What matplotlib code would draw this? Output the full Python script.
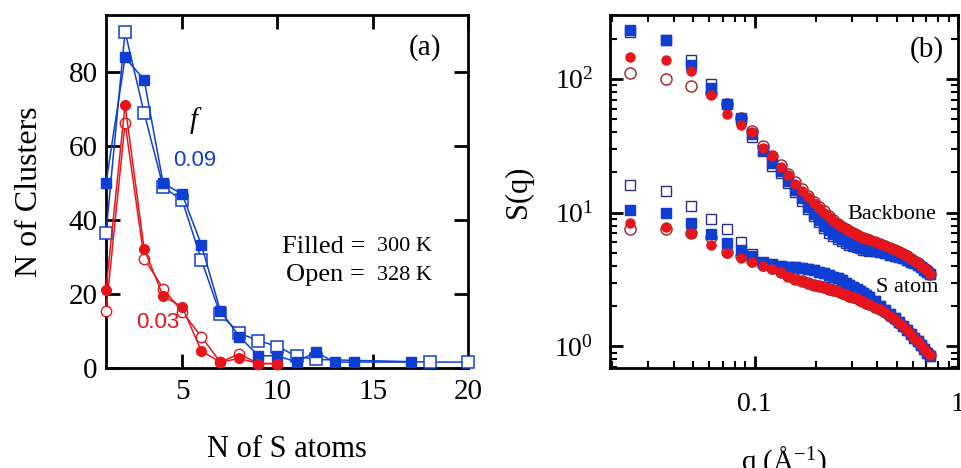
import matplotlib
matplotlib.use("Agg")
import matplotlib.pyplot as plt

plt.rcParams['font.family'] = ['Liberation Serif', 'DejaVu Serif']
plt.rcParams['mathtext.fontset'] = 'custom'
plt.rcParams['mathtext.rm'] = 'Liberation Serif'
plt.rcParams['mathtext.it'] = 'Liberation Serif:italic'

BLUE = '#0f3fd2'
NAVY = '#2c2f7a'
RED = '#e8141c'
DKRED = '#a02020'

# ---- panel (a): cluster size distribution ----
n_blue_filled = [1, 2, 3, 4, 5, 6, 7, 8, 9, 10, 11, 12, 13, 14, 17]
c_blue_filled = [50, 84, 78, 50, 47, 33.4, 15.5, 8.5, 3.3, 3.3, 1.6, 4.3, 1.6, 1.6, 1.6]
n_blue_open = [1, 2, 3, 4, 5, 6, 7, 8, 9, 10, 11, 12, 18, 20]
c_blue_open = [36.4, 91, 69, 49, 45.4, 29.3, 14.5, 9.4, 7.4, 5.8, 3.2, 2.3, 1.6, 1.6]
n_red = [1, 2, 3, 4, 5, 6, 7, 8, 9, 10]
c_red_filled = [21.2, 71.2, 32.3, 19.4, 16.6, 4.6, 1.6, 2.6, 1.2, 1.2]
c_red_open = [15.4, 66.3, 29.6, 21.5, 15.2, 8.5, 1.6, 3.8, 1.2, 1.2]

# ---- panel (b): structure factors ----
q = [0.0244, 0.0366, 0.0488, 0.061, 0.0732, 0.0854, 0.0976, 0.1098, 0.122, 0.1342,
     0.1464, 0.1586, 0.1708, 0.183, 0.1952, 0.2074, 0.2196, 0.2318, 0.244, 0.2562,
     0.2684, 0.2806, 0.2928, 0.305, 0.3172, 0.3294, 0.3416, 0.3538, 0.366,
     0.3904, 0.4148, 0.4392, 0.4636, 0.488, 0.5124, 0.5368, 0.5612, 0.5856,
     0.61, 0.6344, 0.6588, 0.6832, 0.7076, 0.732]

bb_blue_filled = [231, 194, 126, 85, 65, 50.6, 39, 29.6, 23.3, 20.5,
                  17.3, 14.8, 12.8, 11.1, 9.8, 8.8, 8.0, 7.4, 6.9, 6.6,
                  6.3, 6.1, 5.9, 5.75, 5.6, 5.5, 5.4, 5.35, 5.3,
                  5.15, 5.05, 4.95, 4.85, 4.75, 4.65, 4.55, 4.45, 4.3,
                  4.2, 4.05, 3.9, 3.75, 3.6, 3.45]
bb_blue_open = [225, 194, 139, 92, 65, 50, 37, 29, 22.3, 19.8,
                16.7, 14.2, 12.3, 10.7, 9.5, 8.5, 7.7, 7.1, 6.7, 6.4,
                6.1, 5.9, 5.75, 5.6, 5.5, 5.4, 5.3, 5.25, 5.2,
                5.15, 5.05, 4.95, 4.85, 4.75, 4.65, 4.55, 4.45, 4.3,
                4.2, 4.05, 3.9, 3.75, 3.6, 3.45]
bb_red_filled = [145, 139, 115, 76, 55, 45, 40, 30.5, 26.4, 22.0,
                 19.0, 16.5, 14.6, 13.0, 11.8, 10.8, 9.9, 9.2, 8.6, 8.2,
                 7.8, 7.5, 7.25, 7.0, 6.8, 6.6, 6.45, 6.3, 6.2,
                 6.0, 5.8, 5.6, 5.4, 5.25, 5.05, 4.9, 4.7, 4.5,
                 4.35, 4.2, 4.0, 3.85, 3.7, 3.5]
bb_red_open = [111, 100, 89, 78, 65, 51, 40.6, 31.4, 26.4, 22.5,
               19.5, 17.0, 15.0, 13.4, 12.1, 11.1, 10.2, 9.4, 8.8, 8.2,
               7.8, 7.5, 7.25, 7.0, 6.8, 6.6, 6.45, 6.3, 6.2,
               6.0, 5.8, 5.6, 5.4, 5.25, 5.05, 4.9, 4.7, 4.5,
               4.35, 4.2, 4.0, 3.85, 3.7, 3.5]

s_blue_filled = [10.4, 9.9, 8.3, 6.9, 5.9, 5.3, 4.7, 4.2, 4.05, 4.0,
                 3.95, 3.9, 3.85, 3.8, 3.72, 3.62, 3.52, 3.42, 3.32, 3.22,
                 3.12, 3.0, 2.9, 2.8, 2.7, 2.6, 2.5, 2.42, 2.33,
                 2.17, 2.02, 1.88, 1.75, 1.63, 1.52, 1.42, 1.33, 1.24,
                 1.16, 1.09, 1.02, 0.96, 0.9, 0.85]
s_blue_open = [16, 14.4, 11.2, 8.9, 7.5, 6.0, 4.9, 4.3, 4.1, 4.0,
               3.95, 3.9, 3.85, 3.8, 3.72, 3.62, 3.52, 3.42, 3.32, 3.22,
               3.12, 3.0, 2.9, 2.8, 2.7, 2.6, 2.5, 2.42, 2.33,
               2.17, 2.02, 1.88, 1.75, 1.63, 1.52, 1.42, 1.33, 1.24,
               1.16, 1.09, 1.02, 0.96, 0.9, 0.85]
s_red_filled = [8.3, 7.8, 7.0, 5.7, 5.0, 4.6, 4.3, 4.0, 3.8, 3.6,
                3.35, 3.2, 3.08, 2.98, 2.9, 2.82, 2.76, 2.7, 2.64, 2.58,
                2.52, 2.46, 2.4, 2.35, 2.3, 2.24, 2.18, 2.12, 2.06,
                1.97, 1.9, 1.8, 1.7, 1.6, 1.5, 1.41, 1.32, 1.24,
                1.16, 1.09, 1.02, 0.96, 0.91, 0.86]
s_red_open = [7.6, 7.5, 7.0, 6.6, 5.1, 4.7, 4.35, 4.05, 3.85, 3.6,
              3.35, 3.2, 3.08, 2.98, 2.9, 2.82, 2.76, 2.7, 2.64, 2.58,
              2.52, 2.46, 2.4, 2.35, 2.3, 2.24, 2.18, 2.12, 2.06,
              1.97, 1.9, 1.8, 1.7, 1.6, 1.5, 1.41, 1.32, 1.24,
              1.16, 1.09, 1.02, 0.96, 0.91, 0.86]

fig = plt.figure(figsize=(9.61, 4.68), dpi=100)
ax1 = fig.add_axes([0.1103, 0.2137, 0.3767, 0.7543])
ax2 = fig.add_axes([0.6348, 0.2137, 0.3621, 0.7543])

# panel (a)
ax1.plot(n_blue_open, c_blue_open, '-s', color=BLUE, lw=1.1, ms=8, mfc='white',
         mec=BLUE, mew=1.1, clip_on=False, zorder=3)
ax1.plot(n_blue_filled, c_blue_filled, '-s', color=BLUE, lw=1.1, ms=7.5,
         mfc=BLUE, mec=BLUE, clip_on=False, zorder=4)
ax1.plot(n_red, c_red_open, '-o', color=RED, lw=1.1, ms=7.5, mfc='white',
         mec=RED, mew=1.0, clip_on=False, zorder=3)
ax1.plot(n_red, c_red_filled, '-o', color=RED, lw=1.1, ms=7, mfc=RED,
         mec=RED, clip_on=False, zorder=4)

ax1.set_xlim(1, 20)
ax1.set_ylim(0, 95.5)
ax1.set_xticks([5, 10, 15, 20])
ax1.set_yticks([0, 20, 40, 60, 80])
ax1.tick_params(direction='in', length=10, width=2, labelsize=21,
                top=True, right=True, pad=8)
ax1.tick_params(axis='y', pad=6)
for sp in ax1.spines.values():
    sp.set_linewidth(2)

ax1.text(18.6, 86.8, '(a)', fontsize=21, ha='right', va='center')
ax1.text(5.58, 67, 'f', fontsize=21, style='italic', ha='center', va='center')
ax1.text(5.63, 56.2, '0.09', fontsize=16, color=BLUE, ha='center', va='center',
         family='Liberation Sans')
ax1.text(3.74, 12.2, '0.03', fontsize=16, color=RED, ha='center', va='center',
         family='Liberation Sans')
ax1.text(14.6, 32.8, 'Filled =', fontsize=19, ha='right', va='center')
ax1.text(15.2, 32.8, '300 K', fontsize=16, ha='left', va='center')
ax1.text(14.6, 25.1, 'Open =', fontsize=19, ha='right', va='center')
ax1.text(15.2, 25.1, '328 K', fontsize=16, ha='left', va='center')

ax1.set_xlabel('N of S atoms', fontsize=22)
ax1.xaxis.set_label_coords(0.5, -0.19)
ax1.set_ylabel('N of Clusters', fontsize=23)
ax1.yaxis.set_label_coords(-0.17, 0.5)

# panel (b)
for vals_f, vals_o, vals_rf, vals_ro in [(bb_blue_filled, bb_blue_open, bb_red_filled, bb_red_open),
                                         (s_blue_filled, s_blue_open, s_red_filled, s_red_open)]:
    ax2.plot(q, vals_ro, 'o', ms=8, mfc='none', mec=DKRED, mew=1.0, zorder=2)
    ax2.plot(q, vals_o, 's', ms=7, mfc='none', mec=NAVY, mew=1.0, zorder=3)
    ax2.plot(q, vals_f, 's', ms=6.5, mfc=BLUE, mec=BLUE, zorder=4)
    ax2.plot(q, vals_rf, 'o', ms=6.5, mfc=RED, mec=RED, zorder=5)

ax2.set_xscale('log')
ax2.set_yscale('log')
ax2.set_xlim(0.0195, 1.0)
ax2.set_ylim(0.69, 300)
ax2.set_xticks([0.1, 1])
ax2.set_xticklabels(['0.1', '1'])
ax2.tick_params(which='major', direction='in', length=9, width=2, labelsize=20,
                top=True, right=True)
ax2.tick_params(which='minor', direction='in', length=5, width=1.5,
                top=True, right=True)
ax2.tick_params(axis='x', which='major', pad=17)
ax2.tick_params(axis='y', which='major', pad=12)
for sp in ax2.spines.values():
    sp.set_linewidth(2)

ax2.text(0.853, 166, '(b)', fontsize=21, ha='right', va='center')
ax2.text(0.286, 9.7, 'Backbone', fontsize=16, ha='left', va='center')
ax2.text(0.394, 2.75, 'S atom', fontsize=16, ha='left', va='center')

ax2.set_xlabel('q (Å$^{-1}$)', fontsize=21)
ax2.xaxis.set_label_coords(0.5, -0.215)
ax2.set_ylabel('S(q)', fontsize=22)
ax2.yaxis.set_label_coords(-0.22, 0.5)

fig.savefig('out.png', dpi=100)
